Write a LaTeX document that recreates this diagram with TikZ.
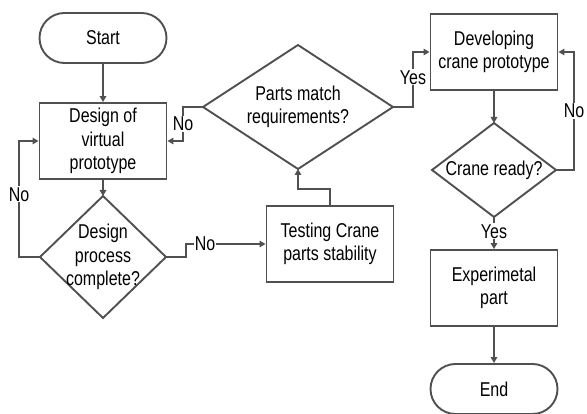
\documentclass[tikz,border=0pt]{standalone}
\usepackage{fontspec}
\setmainfont{Liberation Sans}[FakeStretch=0.8]
\usetikzlibrary{arrows.meta}
\definecolor{linegray}{HTML}{505050}
\tikzset{
  x=1pt, y=-1pt,
  every node/.style={font=\fontsize{20}{23.5}\selectfont, align=center, text=black},
  flowline/.style={draw=linegray, line width=1.9pt},
  arr/.style={flowline, -{Triangle[length=6pt,width=6.5pt]}, line join=miter},
  terminal/.style={flowline, rounded corners=25pt, minimum width=127pt, minimum height=50pt, inner sep=0pt},
  procbox/.style={flowline, minimum width=127pt, minimum height=76pt, inner sep=0pt},
  lbl/.style={fill=white, inner sep=1pt},
  % decision diamond: centre, half width, half height, name
  pics/decision/.style n args={3}{code={
    \coordinate (-n) at (0,-#2);
    \coordinate (-s) at (0,#2);
    \coordinate (-w) at (-#1,0);
    \coordinate (-e) at (#1,0);
    \draw[flowline, line join=miter] (-n) -- (-e) -- (-s) -- (-w) -- cycle;
    \node (-t) at (0,0) {#3};
  }}
}
\begin{document}
\begin{tikzpicture}
\useasboundingbox (0,0) rectangle (587,414);

% left column
\node[terminal] (start) at (103,38) {Start};
\node[procbox] (design) at (103,141) {Design of\\virtual\\prototype};
\pic (dpc) at (103,257) {decision={63}{61}{Design\\process\\complete?}};

% middle column
\node[procbox] (test) at (330,244) {Testing Crane\\parts stability};
\pic (parts) at (298,107) {decision={95}{62}{Parts match\\requirements?}};

% right column
\node[procbox] (dev) at (494,52) {Developing\\crane prototype};
\pic (ready) at (494,170) {decision={62}{47}{Crane ready?}};
\node[procbox] (exp) at (494,288) {Experimetal\\part};
\node[terminal] (end) at (494,389) {End};

% connectors
\draw[arr] (start) -- (design);
\draw[arr] (design) -- (dpc-n);
\draw[arr] (dpc-w) -- ++(-21,0) |- node[lbl, pos=0.27] {No} (design.west);
\draw[arr] (dpc-e) -- ++(20,0) |- node[lbl, pos=0.62] {No} (test.west);
\draw[arr] (test.north) -- ++(0,-16) -| (parts-s);
\draw[arr] (parts-w) -- ++(-20,0) |- node[lbl, pos=0.25] {No} (design.east);
\draw[arr] (parts-e) -- ++(20,0) |- node[lbl, pos=0.27] {Yes} (dev.west);
\draw[arr] (dev) -- (ready-n);
\draw[arr] (ready-e) -- ++(18,0) |- node[lbl, pos=0.25] {No} (dev.east);
\draw[arr] (ready-s) -- node[lbl, pos=0.45] {Yes} (exp.north);
\draw[arr] (exp) -- (end);
\end{tikzpicture}
\end{document}
